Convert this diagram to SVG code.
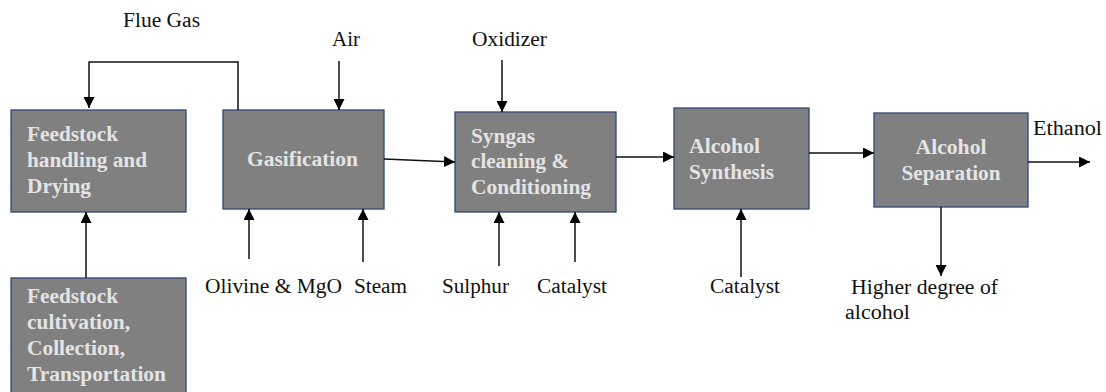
<svg xmlns="http://www.w3.org/2000/svg" width="1106" height="392" viewBox="0 0 1106 392">
  <style>
    .box { fill: #808080; stroke: #2f4775; stroke-width: 1.3; }
    .btxt { font-weight: bold; font-size: 20px; fill: #e4e4e4; }
    .lbl { font-size: 20px; fill: #111; }
    .ln { fill: none; stroke: #111; stroke-width: 1.5; }
  </style>
  <defs>
    <marker id="arr" viewBox="0 0 10 10" refX="10" refY="5" markerWidth="11" markerHeight="11" markerUnits="userSpaceOnUse" orient="auto">
      <path d="M0,0 L10,5 L0,10 Z" fill="#000"/>
    </marker>
  </defs>
  <rect width="1106" height="392" fill="#fff"/>

  <g font-family="Liberation Serif, Times New Roman, serif">
  <!-- process blocks -->
  <g id="feedstock-handling">
    <rect class="box" x="11" y="110" width="175" height="102"/>
    <text class="btxt" x="27" y="141" textLength="91" lengthAdjust="spacingAndGlyphs">Feedstock</text>
    <text class="btxt" x="27" y="167" textLength="120" lengthAdjust="spacingAndGlyphs">handling and</text>
    <text class="btxt" x="27" y="193" textLength="64" lengthAdjust="spacingAndGlyphs">Drying</text>
  </g>
  <g id="gasification">
    <rect class="box" x="223" y="110" width="161" height="99"/>
    <text class="btxt" x="247" y="166" textLength="111" lengthAdjust="spacingAndGlyphs">Gasification</text>
  </g>
  <g id="syngas-cleaning">
    <rect class="box" x="455" y="112" width="161" height="100"/>
    <text class="btxt" x="471" y="143" textLength="64" lengthAdjust="spacingAndGlyphs">Syngas</text>
    <text class="btxt" x="471" y="168" textLength="98" lengthAdjust="spacingAndGlyphs">cleaning &amp;</text>
    <text class="btxt" x="471" y="194" textLength="120" lengthAdjust="spacingAndGlyphs">Conditioning</text>
  </g>
  <g id="alcohol-synthesis">
    <rect class="box" x="674" y="108" width="135" height="101"/>
    <text class="btxt" x="689" y="153" textLength="71" lengthAdjust="spacingAndGlyphs">Alcohol</text>
    <text class="btxt" x="689" y="179" textLength="85" lengthAdjust="spacingAndGlyphs">Synthesis</text>
  </g>
  <g id="alcohol-separation">
    <rect class="box" x="874" y="113" width="154" height="94"/>
    <text class="btxt" x="951" y="154" text-anchor="middle" textLength="71" lengthAdjust="spacingAndGlyphs">Alcohol</text>
    <text class="btxt" x="951" y="180" text-anchor="middle" textLength="99" lengthAdjust="spacingAndGlyphs">Separation</text>
  </g>
  <g id="feedstock-cultivation">
    <rect class="box" x="11" y="278" width="175" height="120"/>
    <text class="btxt" x="27" y="303" textLength="91" lengthAdjust="spacingAndGlyphs">Feedstock</text>
    <text class="btxt" x="27" y="329" textLength="103" lengthAdjust="spacingAndGlyphs">cultivation,</text>
    <text class="btxt" x="27" y="355" textLength="98" lengthAdjust="spacingAndGlyphs">Collection,</text>
    <text class="btxt" x="27" y="381" textLength="139" lengthAdjust="spacingAndGlyphs">Transportation</text>
  </g>

  <!-- stream labels -->
  <g id="labels">
    <text class="lbl" x="123" y="27" textLength="77" lengthAdjust="spacingAndGlyphs">Flue Gas</text>
    <text class="lbl" x="332" y="46" textLength="28" lengthAdjust="spacingAndGlyphs">Air</text>
    <text class="lbl" x="472" y="46" textLength="75" lengthAdjust="spacingAndGlyphs">Oxidizer</text>
    <text class="lbl" x="205" y="293" textLength="137" lengthAdjust="spacingAndGlyphs">Olivine &amp; MgO</text>
    <text class="lbl" x="354" y="293" textLength="53" lengthAdjust="spacingAndGlyphs">Steam</text>
    <text class="lbl" x="442" y="293" textLength="67" lengthAdjust="spacingAndGlyphs">Sulphur</text>
    <text class="lbl" x="537" y="293" textLength="70" lengthAdjust="spacingAndGlyphs">Catalyst</text>
    <text class="lbl" x="710" y="293" textLength="70" lengthAdjust="spacingAndGlyphs">Catalyst</text>
    <text class="lbl" x="1033" y="135" textLength="69" lengthAdjust="spacingAndGlyphs">Ethanol</text>
    <text class="lbl" x="851" y="294" textLength="147" lengthAdjust="spacingAndGlyphs">Higher degree of</text>
    <text class="lbl" x="845" y="319" textLength="65" lengthAdjust="spacingAndGlyphs">alcohol</text>
  </g>
  </g>

  <!-- connectors -->
  <g id="connectors">
    <polyline class="ln" points="238,110 238,62 89,62 89,108" marker-end="url(#arr)"/>
    <line class="ln" x1="339" y1="61" x2="339" y2="110" marker-end="url(#arr)"/>
    <line class="ln" x1="502" y1="60" x2="502" y2="112" marker-end="url(#arr)"/>
    <line class="ln" x1="384" y1="159" x2="455" y2="162" marker-end="url(#arr)"/>
    <line class="ln" x1="616" y1="157" x2="674" y2="157" marker-end="url(#arr)"/>
    <line class="ln" x1="809" y1="153" x2="874" y2="153" marker-end="url(#arr)"/>
    <line class="ln" x1="1028" y1="162" x2="1090" y2="162" marker-end="url(#arr)"/>
    <line class="ln" x1="941" y1="207" x2="941" y2="276" marker-end="url(#arr)"/>
    <line class="ln" x1="86" y1="278" x2="86" y2="212" marker-end="url(#arr)"/>
    <line class="ln" x1="249" y1="259" x2="249" y2="209" marker-end="url(#arr)"/>
    <line class="ln" x1="363" y1="262" x2="363" y2="209" marker-end="url(#arr)"/>
    <line class="ln" x1="499" y1="266" x2="499" y2="212" marker-end="url(#arr)"/>
    <line class="ln" x1="575" y1="262" x2="575" y2="212" marker-end="url(#arr)"/>
    <line class="ln" x1="741" y1="277" x2="741" y2="209" marker-end="url(#arr)"/>
  </g>
</svg>
